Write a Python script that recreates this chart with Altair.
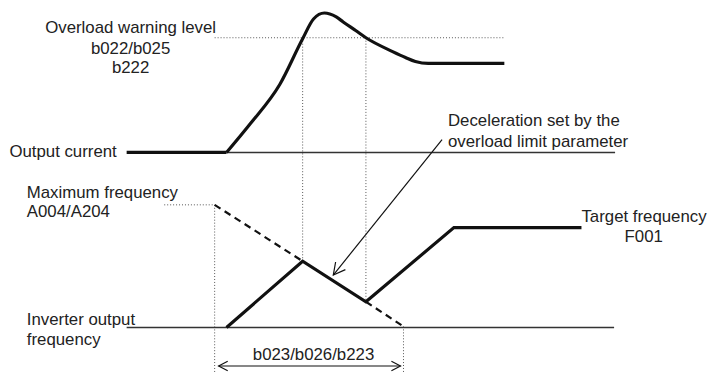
import altair as alt
import pandas as pd

# ---- data (time axis t, level axis v; v grows downward) ----
# Output current
cur_flat_t = [128, 229]
cur_flat_v = [152, 152]
cur_base_t = [229, 622]
cur_base_v = [152, 152]
cur_curve_t = [229, 253, 283, 306, 317, 328, 340, 347, 360, 370, 397, 410, 420, 433, 510]
cur_curve_v = [152, 123, 83, 37, 17, 11, 15, 20, 29, 36, 50, 56, 60, 62, 62]

# Inverter output frequency
freq_t = [229, 306, 370, 459, 588]
freq_v = [329, 262, 303, 228, 228]
freq_base_t = [128, 621]
freq_base_v = [329, 329]

# Dashed deceleration line (max frequency ramp)
dash_seg = [[(217, 205), (306, 262)], [(370, 303), (408, 328)]]

# Dotted guides
dot_seg = [
    [(217, 36), (510, 36)],
    [(306, 36), (306, 262)],
    [(370, 36), (370, 303)],
    [(166, 205), (217, 205)],
    [(217, 205), (217, 374)],
    [(408, 328), (408, 374)],
]

# Annotation arrows
ann_t = [447, 139]
ann_t = [447, 337]
ann_v = [139, 276]
span_t = [221, 405]
span_v = [368, 368]
heads_t = [337, 221, 405]
heads_v = [276, 368, 368]
heads_angle = [128, 180, 0]
heads_size = [560, 340, 340]

# Labels
lab_text = ["Overload warning level", "b022/b025", "b222", "Output current",
            "Maximum frequency", "A004/A204", "Inverter output", "frequency",
            "Deceleration set by the", "overload limit parameter",
            "Target frequency", "F001", "b023/b026/b223"]
lab_t = [132, 132, 132, 118, 27, 27, 27, 27, 453, 453, 588, 651, 317]
lab_v = [31, 52, 72, 157, 198, 217, 327, 347, 125, 146, 222, 243, 362]
lab_align = ["center", "center", "center", "right", "left", "left", "left", "left",
             "left", "left", "left", "center", "center"]

XS = alt.Scale(domain=[8, 718], nice=False, zero=False)
YS = alt.Scale(domain=[8, 374], nice=False, zero=False, reverse=True)


def line_df(segs):
    rows = []
    for k, seg in enumerate(segs):
        for i, (t, v) in enumerate(seg):
            rows.append({"seg": k, "i": i, "t": t, "v": v})
    return pd.DataFrame(rows)


def line_layer(df, **mark):
    return alt.Chart(df).mark_line(**mark).encode(
        x=alt.X("t:Q", scale=XS, axis=None),
        y=alt.Y("v:Q", scale=YS, axis=None),
        detail="seg:N",
        order="i:Q",
    )


thick = line_df([list(zip(cur_flat_t, cur_flat_v)), list(zip(freq_t, freq_v))])
curve = line_df([list(zip(cur_curve_t, cur_curve_v))])
thin = line_df([list(zip(cur_base_t, cur_base_v)), list(zip(freq_base_t, freq_base_v))])
dashed = line_df(dash_seg)
dotted = line_df(dot_seg)
arrows = line_df([list(zip(ann_t, ann_v)), list(zip(span_t, span_v))])

heads = pd.DataFrame({"t": heads_t, "v": heads_v, "a": heads_angle, "s": heads_size})
labels = pd.DataFrame({"t": lab_t, "v": lab_v, "text": lab_text, "al": lab_align})

layers = [
    line_layer(dotted, color="#555555", strokeWidth=1, strokeDash=[1, 2]),
    line_layer(thin, color="#333333", strokeWidth=1.4),
    line_layer(dashed, color="#111111", strokeWidth=2.2, strokeDash=[7, 5]),
    line_layer(thick, color="#111111", strokeWidth=3.2, strokeJoin="miter"),
    line_layer(curve, color="#111111", strokeWidth=3.2, interpolate="monotone"),
    line_layer(arrows, color="#111111", strokeWidth=1.2),
    alt.Chart(heads).mark_point(
        shape="M-1,-0.53L0,0L-1,0.53", filled=False, color="#111111",
        strokeWidth=1.2, opacity=1,
    ).encode(
        x=alt.X("t:Q", scale=XS, axis=None),
        y=alt.Y("v:Q", scale=YS, axis=None),
        angle=alt.Angle("a:Q", scale=None),
        size=alt.Size("s:Q", scale=None),
    ),
]

for al in ["left", "center", "right"]:
    layers.append(
        alt.Chart(labels).transform_filter(alt.datum.al == al).mark_text(
            align=al, baseline="alphabetic", font="Liberation Sans",
            fontSize=17, color="#222222",
        ).encode(
            x=alt.X("t:Q", scale=XS, axis=None),
            y=alt.Y("v:Q", scale=YS, axis=None),
            text="text:N",
        )
    )

chart = alt.layer(*layers).properties(
    width=710, height=366, padding=0, autosize=alt.AutoSizeParams(type="none"),
).configure_view(stroke=None)

chart.save("out.html", embed_options={"renderer": "svg", "actions": False})
